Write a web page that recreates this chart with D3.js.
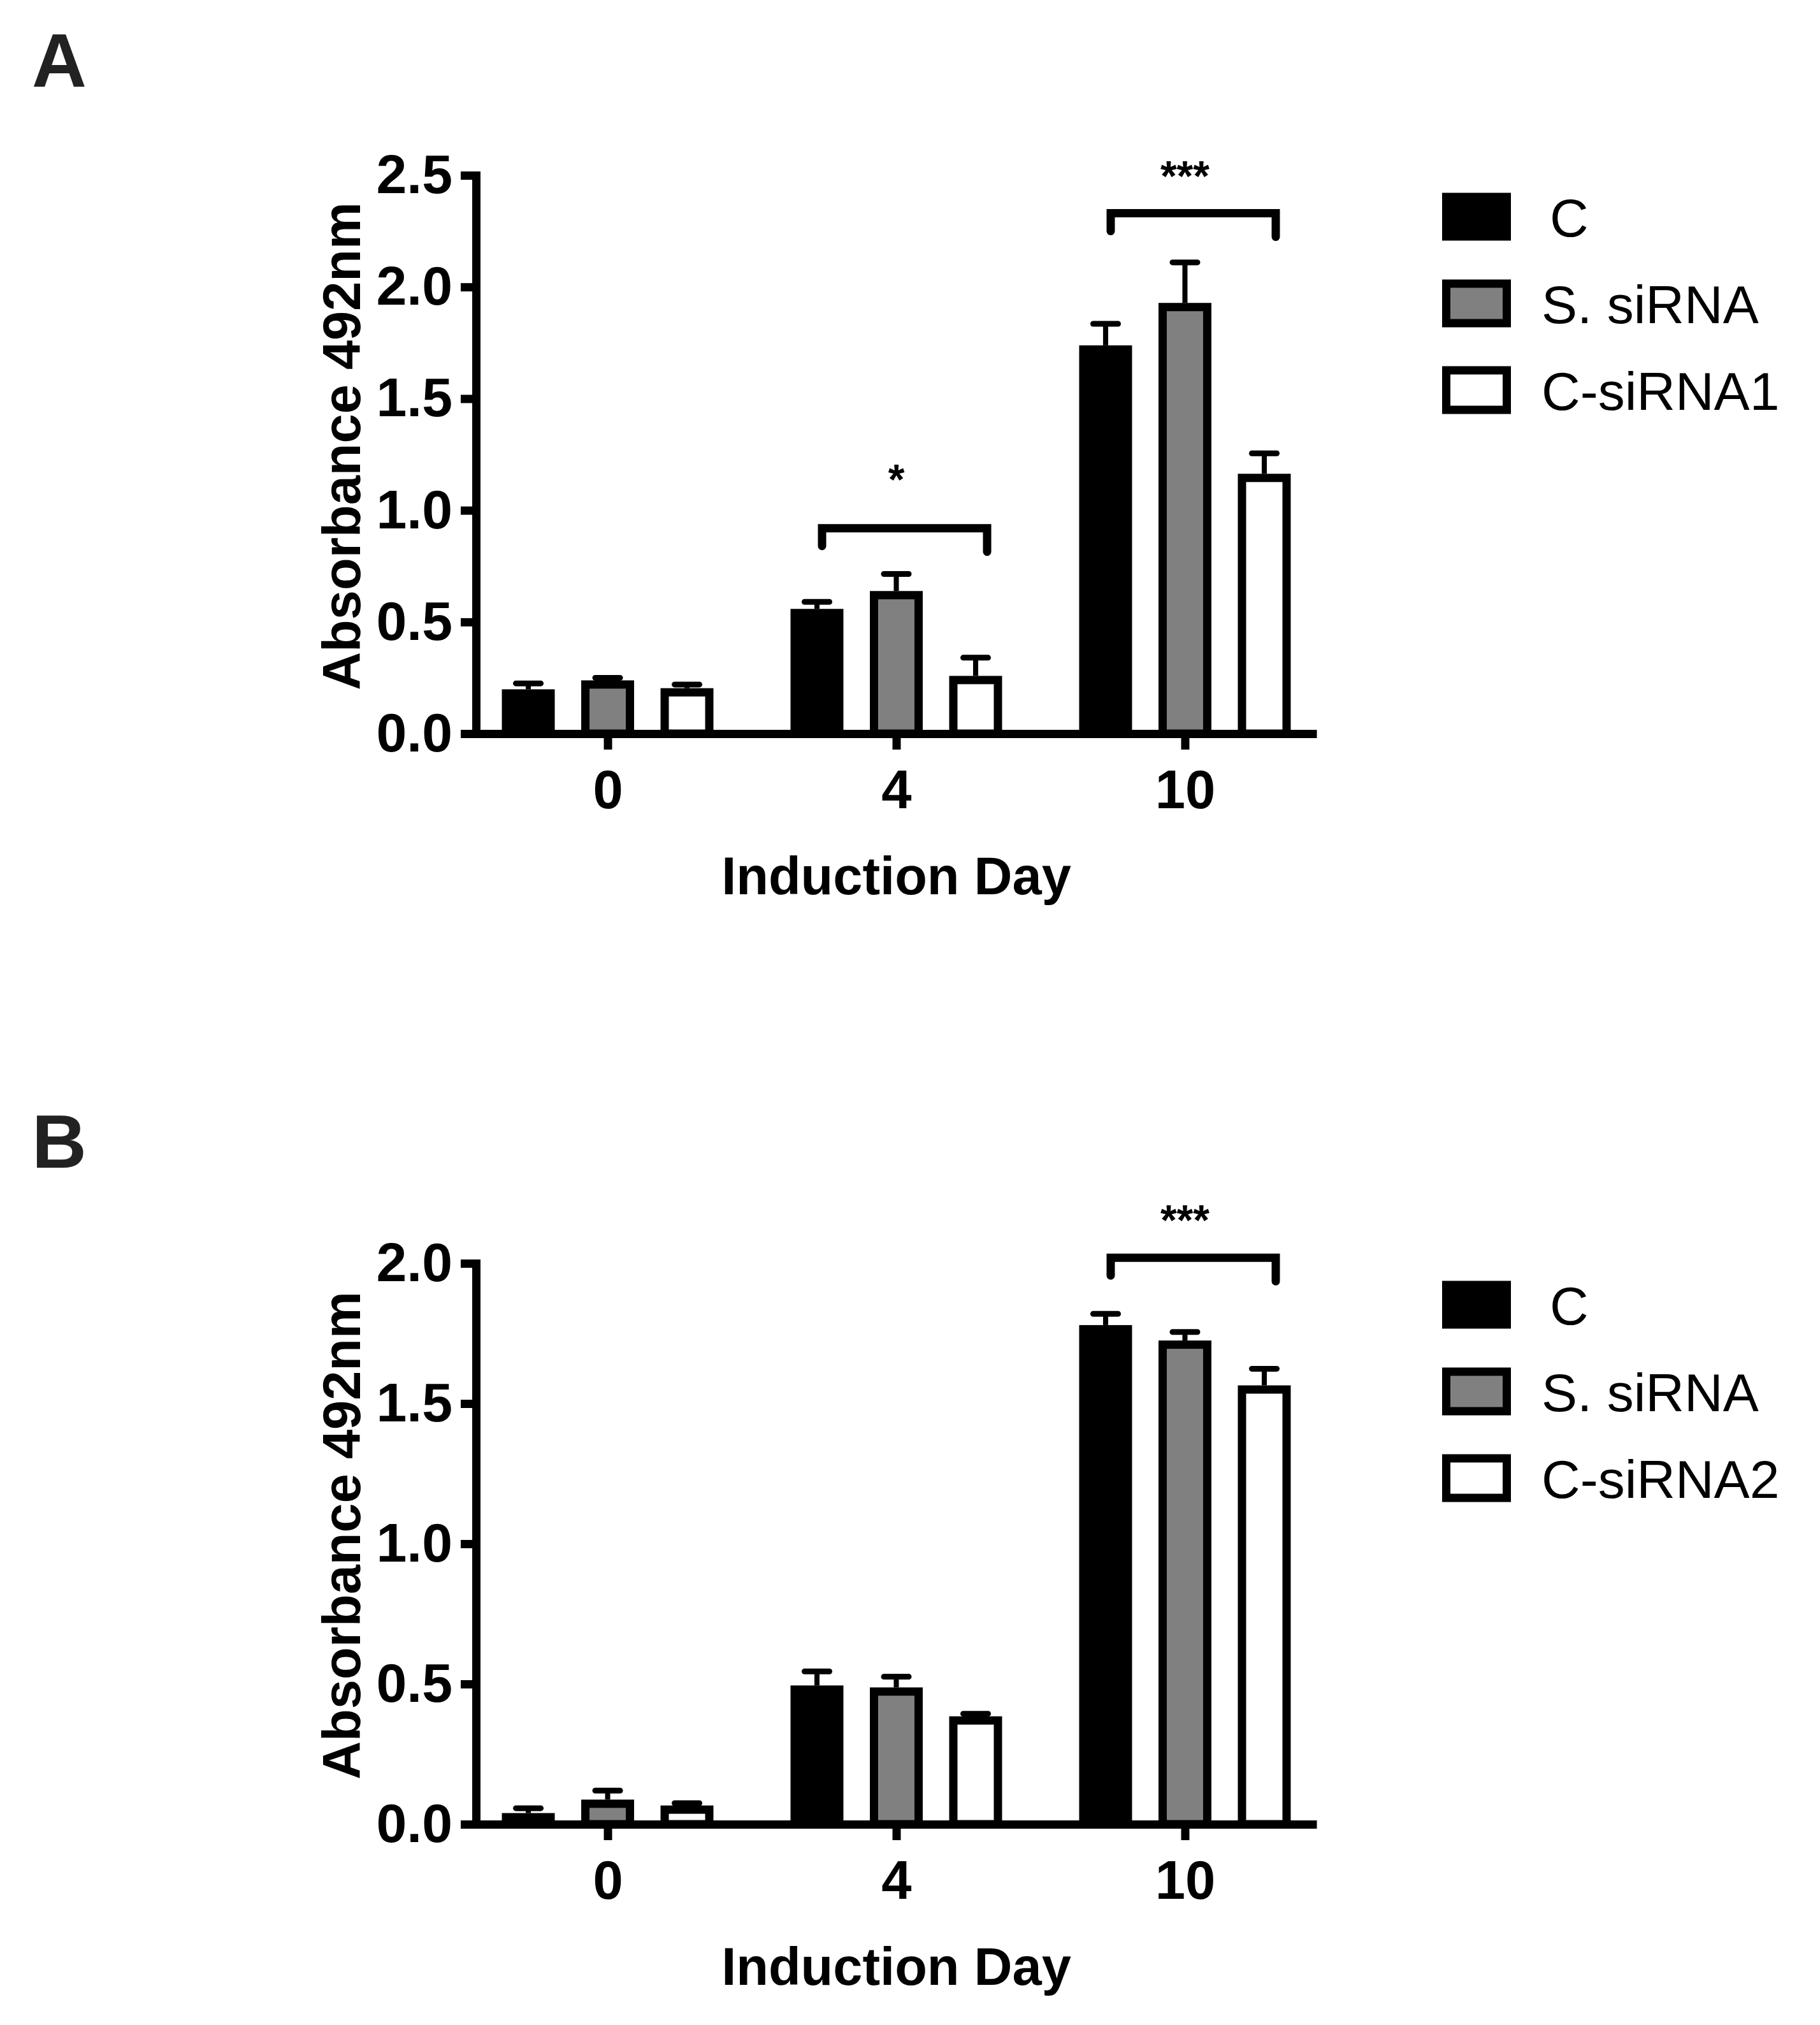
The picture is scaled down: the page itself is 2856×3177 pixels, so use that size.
<!DOCTYPE html>
<html>
<head>
<meta charset="utf-8">
<script src="https://cdn.jsdelivr.net/npm/d3@7"></script>
<style>
  body { margin: 0; background: #fff; }
  text { font-family: "Liberation Sans", Arial, sans-serif; }
</style>
</head>
<body>
<div id="viz"></div>
<script>
// ---- data ----
const days = ['0', '4', '10'];
const seriesA = ['C', 'S. siRNA', 'C-siRNA1'];
const seriesB = ['C', 'S. siRNA', 'C-siRNA2'];
const fills = ['#000000', '#808080', '#ffffff'];

// one row per series, one value per induction day
const meansA = [[0.18, 0.54, 1.72], [0.22, 0.62, 1.91], [0.185, 0.24, 1.145]];
const errsA  = [[0.045, 0.05, 0.115], [0.03, 0.095, 0.20], [0.035, 0.10, 0.11]];
const meansB = [[0.025, 0.48, 1.765], [0.073, 0.473, 1.71], [0.052, 0.37, 1.55]];
const errsB  = [[0.032, 0.065, 0.055], [0.047, 0.053, 0.045], [0.023, 0.024, 0.074]];

const ticksA = [0, 0.5, 1.0, 1.5, 2.0, 2.5];
const ticksB = [0, 0.5, 1.0, 1.5, 2.0];

const sigA = [{day: '4', y: 0.92, label: '*'}, {day: '10', y: 2.33, label: '***'}];
const sigB = [{day: '10', y: 2.02, label: '***'}];

// ---- layout ----
const W = 2856, H = 3177;
const axisX = 747, axisRight = 2066;
const LW = 13;      // axis / bar outline width
const svg = d3.select('#viz').append('svg')
  .attr('width', W).attr('height', H)
  .attr('viewBox', `0 0 ${W} ${H}`);

function drawPanel(p){
  const g = svg.append('g');
  const y = d3.scaleLinear().domain([0, p.max]).range([p.y0, p.yTop]);
  const x = d3.scalePoint().domain(days).range([axisX, axisRight]).padding(0.456);
  const inner = d3.scaleBand().domain(p.series).range([-186.75, 186.75])
    .paddingInner(1/3).paddingOuter(1/6);
  const bw = inner.bandwidth();

  // bars
  p.series.forEach((s, si) => {
    const grp = g.append('g');
    grp.selectAll('rect').data(days).enter().append('rect')
      .attr('x', d => x(d) + inner(s) + LW/2)
      .attr('width', bw - LW)
      .attr('y', (d, i) => y(p.means[si][i]))
      .attr('height', (d, i) => y(0) - y(p.means[si][i]))
      .attr('fill', fills[si]).attr('stroke', '#000').attr('stroke-width', LW);

    // upward error bars
    grp.selectAll('line.stem').data(days).enter().append('line')
      .attr('class', 'stem')
      .attr('x1', d => x(d) + inner(s) + bw/2).attr('x2', d => x(d) + inner(s) + bw/2)
      .attr('y1', (d, i) => y(p.means[si][i]) - LW/2)
      .attr('y2', (d, i) => y(p.means[si][i] + p.errs[si][i]))
      .attr('stroke', '#000').attr('stroke-width', 8);
    grp.selectAll('line.cap').data(days).enter().append('line')
      .attr('class', 'cap')
      .attr('x1', d => x(d) + inner(s) + bw/2 - 19.5).attr('x2', d => x(d) + inner(s) + bw/2 + 19.5)
      .attr('y1', (d, i) => y(p.means[si][i] + p.errs[si][i]))
      .attr('y2', (d, i) => y(p.means[si][i] + p.errs[si][i]))
      .attr('stroke', '#000').attr('stroke-width', 9).attr('stroke-linecap', 'round');
  });

  // y axis
  const ya = g.append('g').attr('transform', `translate(${axisX},0)`)
    .call(d3.axisLeft(y).tickValues(p.ticks).tickFormat(d3.format('.1f'))
      .tickSize(24).tickSizeOuter(0).tickPadding(13));
  ya.select('.domain').attr('stroke-width', LW).attr('stroke-linecap', 'square');
  ya.selectAll('.tick line').attr('stroke-width', LW);
  ya.selectAll('.tick text').attr('font-size', 86).attr('font-weight', 'bold').attr('fill', '#000');

  // x axis
  const xa = g.append('g').attr('transform', `translate(0,${y(0)})`)
    .call(d3.axisBottom(x).tickSize(25).tickSizeOuter(0).tickPadding(32));
  xa.select('.domain').attr('stroke-width', LW);
  xa.selectAll('.tick line').attr('stroke-width', LW);
  xa.selectAll('.tick text').attr('font-size', 85).attr('font-weight', 'bold').attr('fill', '#000');

  // axis titles
  g.append('text')
    .attr('transform', `translate(565,${(y(0) + y(p.max)) / 2 - 13}) rotate(-90)`)
    .attr('text-anchor', 'middle').attr('font-size', 83).attr('font-weight', 'bold')
    .text('Absorbance 492nm');
  g.append('text')
    .attr('x', x('4')).attr('y', y(0) + 252)
    .attr('text-anchor', 'middle').attr('font-size', 83).attr('font-weight', 'bold')
    .text('Induction Day');

  // significance brackets
  const first = p.series[0], last = p.series[p.series.length - 1];
  p.sig.forEach(s => {
    const x1 = x(s.day) + inner(first) + bw/2 + 8;
    const x2 = x(s.day) + inner(last) + bw/2 + 18;
    const yb = y(s.y);
    g.append('path')
      .attr('d', `M${x1},${yb + 28}V${yb}H${x2}V${yb + 37}`)
      .attr('fill', 'none').attr('stroke', '#000').attr('stroke-width', 13)
      .attr('stroke-linecap', 'round');
    g.append('text')
      .attr('x', x(s.day)).attr('y', yb - (s.label.length === 1 ? 54 : 36))
      .attr('text-anchor', 'middle').attr('font-size', 66).attr('font-weight', 'bold')
      .text(s.label);
  });

  // legend
  const lg = g.append('g').attr('transform', `translate(2263,${p.yTop + 65})`);
  const row = lg.selectAll('g').data(p.series).enter().append('g')
    .attr('transform', (d, i) => `translate(0,${i * 136})`);
  row.append('rect')
    .attr('x', LW/2).attr('y', -37.5 + LW/2)
    .attr('width', 108 - LW).attr('height', 75 - LW)
    .attr('fill', (d, i) => fills[i]).attr('stroke', '#000').attr('stroke-width', LW);
  row.append('text')
    .attr('x', (d, i) => i === 0 ? 169 : 156).attr('y', 31)
    .attr('font-size', 84).text(d => d);

  // panel letter
  svg.append('text').attr('x', 50).attr('y', p.letterY)
    .attr('font-size', 119).attr('font-weight', 'bold').attr('fill', '#222')
    .text(p.letter);
}

drawPanel({letter: 'A', letterY: 136, series: seriesA, means: meansA, errs: errsA,
  ticks: ticksA, max: 2.5, yTop: 275, y0: 1151, sig: sigA});
drawPanel({letter: 'B', letterY: 1832, series: seriesB, means: meansB, errs: errsB,
  ticks: ticksB, max: 2.0, yTop: 1982, y0: 2862, sig: sigB});
</script>
</body>
</html>
